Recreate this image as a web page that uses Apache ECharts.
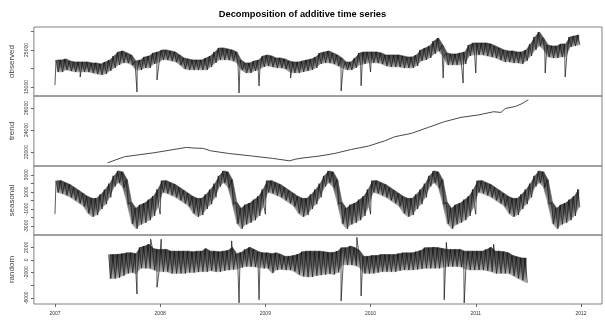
<!DOCTYPE html>
<html><head><meta charset="utf-8">
<script src="https://cdn.jsdelivr.net/npm/echarts@6/dist/echarts.min.js"></script>
<style>html,body{margin:0;padding:0;background:#fff}#c{width:605px;height:322px}</style>
</head><body><div id="c"></div>
<script>
// ---- data ----
const title = 'Decomposition of additive time series';
const panelNames = ['observed', 'trend', 'seasonal', 'random'];
const yearTicks = [2007, 2008, 2009, 2010, 2011, 2012];

// observed: semi-monthly band tops / bottoms, 2007.0 .. 2012.0 (120 half-months)
const obsHi = [22300,22300,22570,22030,21760,21760,21760,21760,21490,21490,21220,21760,22300,23380,24460,24730,24190,23650,22030,22300,
  23110,23380,24190,24460,25000,25000,24730,24460,23650,22840,22570,22300,22300,22300,22840,23380,24460,25540,25540,25270,
  25000,24460,22300,21490,21490,22030,22300,23380,23650,23380,22840,22840,22570,22030,21760,21760,22030,22300,22570,23110,
  24190,24460,24730,24190,23650,22840,21760,21760,22840,24190,24460,24460,24460,24460,24190,23650,23650,23650,23650,23380,
  23110,23110,23650,25000,25540,26080,27430,28240,26350,24190,23920,23920,24190,24460,26350,26890,26890,26890,26890,26620,
  26080,25540,25000,24730,24730,24460,24460,25000,26620,28510,29860,28240,26350,26080,26080,26620,26620,28510,28780,29050];
const obsLo = [19060,19060,19600,19330,19060,19060,19060,19060,18790,18520,18250,18520,19330,20140,20950,21490,21490,20950,19600,19600,
  20140,20140,21220,21490,22300,22300,22030,21760,20950,19870,19600,19600,19600,19600,19600,20410,21490,22300,22300,22300,
  22030,21490,19600,18790,18790,19330,19600,20410,20680,20410,20140,20140,19870,19060,18790,18790,19060,19330,19600,20140,
  21220,21490,21490,21220,20680,20140,19600,19600,20140,20950,21220,21490,21490,21490,21220,20680,20410,20410,20410,20140,
  20140,20140,20680,22030,22300,22840,23920,24730,23380,20950,20950,20950,20950,21220,23380,23650,23650,23650,23380,23110,
  22840,22300,21760,21760,21490,21490,21220,22030,23380,25000,26080,25000,23110,22840,22840,23110,23110,25810,26080,26350];
const obsDipT = [2007.00, 2007.24, 2007.78, 2007.97, 2008.75, 2008.94, 2009.24, 2009.72, 2009.91, 2010.00, 2010.69, 2010.88, 2011.00, 2011.66, 2011.85];
const obsDipV = [15500, 17700, 13660, 16900, 13390, 15280, 17440, 13930, 15320, 19060, 17440, 16090, 18790, 18790, 17710];

// trend: smooth line 2007.5 .. 2011.5
const trendT = [2007.50,2007.66,2007.94,2008.10,2008.25,2008.32,2008.41,2008.48,2008.65,2008.88,2009.07,2009.23,2009.29,2009.35,
  2009.51,2009.66,2009.82,2009.98,2010.14,2010.23,2010.39,2010.55,2010.70,2010.86,2011.02,2011.17,2011.24,2011.28,2011.38,2011.44,2011.50];
const trendV = [21020,21570,21930,22180,22420,22360,22330,22110,21870,21630,21420,21200,21360,21450,
  21630,21870,22240,22540,23030,23390,23700,24240,24750,25150,25360,25660,25600,25950,26150,26400,26750];

// seasonal: one year of half-month band tops / bottoms (the component repeats every year)
const seasHi = [2310,2310,2080,1855,1510,1170,830,480,250,250,710,1280,1970,2880,3455,3340,2425,-200,-900,-500,-300,100,500,1300];
const seasLo = [940,830,600,370,25,-320,-660,-1500,-1900,-1700,-1000,-430,370,1625,2080,1510,-430,-2700,-3300,-2800,-2600,-2300,-1800,-800];
const seasYears = [2007, 2008, 2009, 2010, 2011];
const seasNewYearV = -1600;

// random: half-month band tops / bottoms 2007.5 .. 2011.5 (half-months 12..107)
const randHi = [860,860,900,1000,1130,1130,1000,2000,2210,2500,1800,1670,1670,1670,1400,1400,1400,1400,1400,1300,
  1400,1400,1800,1400,1400,1300,1400,1500,2000,1000,1200,1670,2000,1670,1300,1130,1130,1000,1130,900,
  580,580,700,900,1300,1400,1400,1400,1400,1300,1200,1200,1400,1950,1950,2200,1950,1500,580,580,
  700,700,860,860,860,860,1000,1130,1130,1130,1300,1500,1950,1950,2000,1950,1800,1670,1670,1670,
  1670,1400,1400,1400,1400,1400,1670,2000,1400,1400,1300,1130,700,500,320,300];
const randLo = [-2950,-2950,-2800,-2500,-2130,-2000,-2200,-1300,-1320,-1320,-1600,-1860,-1860,-1860,-2130,-2130,-2130,-2130,-2000,-2000,
  -1900,-1860,-1860,-1700,-1860,-1860,-1700,-1600,-1500,-1500,-1200,-1050,-1050,-1100,-1200,-1320,-1320,-2080,-1600,-1500,
  -1590,-1590,-1800,-2300,-2600,-2690,-2690,-2500,-2400,-2300,-2200,-2300,-2000,-800,-780,-780,-900,-1200,-2130,-2130,
  -2130,-2000,-1860,-1860,-1860,-1860,-1700,-1590,-1590,-1590,-1500,-1400,-1320,-1320,-1320,-1320,-1200,-1050,-1050,-1050,
  -1100,-1400,-1590,-1590,-1590,-1590,-1700,-1860,-2130,-2130,-2130,-2130,-2500,-2900,-3220,-3600];
const randStartHalfMonth = 12;
const randSpikeT = [2007.78,2007.91,2007.97,2008.01,2008.68,2008.75,2008.94,2009.72,2009.87,2009.91,2010.70,2010.72,2010.89,2011.17];
const randSpikeV = [-5400,3300,-4320,3300,3030,-6800,-6300,-6500,3580,-5700,-6300,2770,-6800,2490];

// ---- build point tables ----
function zig(start, hi, lo) {
  const pts = [];
  for (let i = 0; i < hi.length; i++) {
    pts.push([start + (i + 0.25) / 24, hi[i]]);
    pts.push([start + (i + 0.75) / 24, lo[i]]);
  }
  return pts;
}
function merge(a, ts, vs) {
  const pts = a.slice();
  ts.forEach((t, i) => pts.push([t, vs[i]]));
  pts.sort((p, q) => p[0] - q[0]);
  return pts;
}
// band quads between consecutive half-months: [t0, hi0, lo0, t1, hi1, lo1]
function bandRows(ts, hi, lo) {
  const rows = [];
  for (let i = 0; i + 1 < ts.length; i++) rows.push([ts[i], hi[i], lo[i], ts[i + 1], hi[i + 1], lo[i + 1]]);
  return rows;
}
function halfMonthTimes(start, n) { const t = []; for (let i = 0; i < n; i++) t.push(start + (i + 0.5) / 24); return t; }

const obsData = merge(zig(2007, obsHi, obsLo), obsDipT, obsDipV);
const obsBand = bandRows(halfMonthTimes(2007, obsHi.length), obsHi, obsLo);
const trendData = trendT.map((t, i) => [t, trendV[i]]);
let seasData = [], seasT = [], seasHiAll = [], seasLoAll = [];
seasYears.forEach(y => {
  seasData.push([y, seasNewYearV]);
  seasData = seasData.concat(zig(y, seasHi, seasLo));
  seasT = seasT.concat(halfMonthTimes(y, seasHi.length));
  seasHiAll = seasHiAll.concat(seasHi); seasLoAll = seasLoAll.concat(seasLo);
});
const seasBand = bandRows(seasT, seasHiAll, seasLoAll);
const randStart = 2007 + randStartHalfMonth / 24;
const randData = merge(zig(randStart, randHi, randLo), randSpikeT, randSpikeV);
const randBand = bandRows(halfMonthTimes(randStart, randHi.length), randHi, randLo);

// ---- chart ----
const FONT = 'Liberation Sans';
const tops = [27, 96, 166, 235];
const heights = [69, 70, 69, 69];
const yRanges = [[12570, 31200], [20730, 27090], [-4030, 4030], [-6980, 3960]];
const yTicks = [[15000, 20000, 25000, 30000], [22000, 24000, 26000], [-3000, -2000, -1000, 0, 1000, 2000, 3000], [-6000, -4000, -2000, 0, 2000]];
const yLabels = [[15000, 25000], [22000, 24000, 26000], [-3000, -1000, 1000, 3000], [-6000, -2000, 0, 2000]];
const datas = [obsData, trendData, seasData, randData];
const bands = [obsBand, null, seasBand, randBand];

const bandFill = new echarts.graphic.LinearGradient(0, 0, 0, 1, [
  { offset: 0, color: '#3a3a3a' }, { offset: 0.55, color: '#6a6a6a' }, { offset: 1, color: '#b4b4b4' }]);
function bandRender(params, api) {
  const a = api.coord([api.value(0), api.value(1)]);
  const b = api.coord([api.value(3), api.value(4)]);
  const c = api.coord([api.value(3), api.value(5)]);
  const d = api.coord([api.value(0), api.value(2)]);
  return { type: 'polygon', shape: { points: [a, b, c, d] }, style: { fill: bandFill, stroke: bandFill, lineWidth: 0.6 } };
}

const grids = [], xAxes = [], yAxes = [], series = [];
for (let i = 0; i < 4; i++) {
  grids.push({ left: 29, width: 573, top: tops[i], height: heights[i], show: true, borderColor: '#808080', borderWidth: 1, backgroundColor: 'transparent' });
  const last = i === 3;
  xAxes.push({
    gridIndex: i, type: 'value', min: 2006.8, max: 2012.2, show: last, position: 'bottom',
    splitLine: { show: false }, axisLine: { show: false, onZero: false },
    axisTick: { show: last, length: 3, lineStyle: { color: '#666' }, customValues: yearTicks },
    axisLabel: { show: last, customValues: yearTicks, fontSize: 5, color: '#333', fontFamily: FONT, margin: 7, formatter: v => String(v) }
  });
  yAxes.push({
    gridIndex: i, type: 'value', min: yRanges[i][0], max: yRanges[i][1],
    splitLine: { show: false }, axisLine: { show: false, onZero: false },
    axisTick: { show: true, length: 3, lineStyle: { color: '#666' }, customValues: yTicks[i] },
    axisLabel: { customValues: yLabels[i], rotate: 90, fontSize: 5, color: '#333', fontFamily: FONT, margin: 5, formatter: v => String(v) },
    name: panelNames[i], nameLocation: 'middle', nameRotate: 90, nameGap: 15,
    nameTextStyle: { fontSize: 8, color: '#444', fontFamily: FONT }
  });
  if (bands[i]) {
    series.push({
      type: 'custom', xAxisIndex: i, yAxisIndex: i, data: bands[i], renderItem: bandRender,
      encode: { x: [0, 3], y: [1, 2, 4, 5] }, animation: false, silent: true, z: 1, clip: true
    });
  }
  series.push({
    type: 'line', xAxisIndex: i, yAxisIndex: i, data: datas[i], showSymbol: false, symbol: 'none',
    lineStyle: { color: i === 1 ? '#333' : '#111', width: i === 1 ? 0.9 : 0.7 }, animation: false, silent: true, clip: true, z: 2
  });
}

const chart = echarts.init(document.getElementById('c'), null, { renderer: 'canvas' });
chart.setOption({
  animation: false,
  backgroundColor: '#fff',
  title: { text: title, left: 'center', top: 5, textStyle: { fontSize: 9.3, fontWeight: 'bold', color: '#000', fontFamily: FONT } },
  grid: grids, xAxis: xAxes, yAxis: yAxes, series: series
});
</script></body></html>
